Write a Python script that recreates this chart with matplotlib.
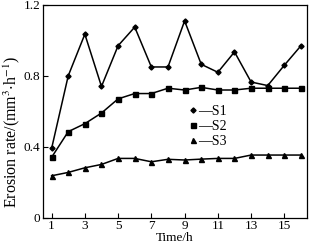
import numpy as np
import matplotlib
matplotlib.use("Agg")
import matplotlib.pyplot as plt

plt.rcParams['font.family'] = ['Liberation Serif', 'DejaVu Serif']
plt.rcParams['mathtext.fontset'] = 'stix'

time_h = [1, 2, 3, 4, 5, 6, 7, 8, 9, 10, 11, 12, 13, 14, 15, 16]
s1 = [0.39, 0.80, 1.035, 0.74, 0.97, 1.075, 0.85, 0.85, 1.11, 0.865, 0.82, 0.935, 0.765, 0.745, 0.86, 0.97]
s2 = [0.34, 0.485, 0.53, 0.59, 0.67, 0.70, 0.70, 0.73, 0.72, 0.735, 0.72, 0.72, 0.73, 0.73, 0.73, 0.73]
s3 = [0.236, 0.255, 0.281, 0.30, 0.334, 0.334, 0.315, 0.329, 0.325, 0.33, 0.334, 0.334, 0.353, 0.353, 0.353, 0.353]
xticks = [1, 3, 5, 7, 9, 11, 13, 15]
yticks = [0, 0.4, 0.8, 1.2]
ytick_labels = ["0", "0.4", "0.8", "1.2"]

fig = plt.figure(figsize=(3.09, 2.47), dpi=100)
ax = fig.add_axes([0.139, 0.119, 0.855, 0.861])

ax.plot(time_h, s1, color='black', lw=1.1, marker='D', ms=2.6)
ax.plot(time_h, s2, color='black', lw=1.1, marker='s', ms=3.6)
ax.plot(time_h, s3, color='black', lw=1.1, marker='^', ms=3.6)

# legend: marker then dash in the label
h1, = ax.plot([], [], ls='none', color='black', marker='D', ms=2.6)
h2, = ax.plot([], [], ls='none', color='black', marker='s', ms=3.6)
h3, = ax.plot([], [], ls='none', color='black', marker='^', ms=3.6)
ax.legend([h1, h2, h3], ["\u2014S1", "\u2014S2", "\u2014S3"], loc='upper left',
          bbox_to_anchor=(0.52, 0.57), frameon=False, fontsize=10,
          handlelength=0.6, handletextpad=0.1, labelspacing=0.15,
          borderpad=0.1)

ax.set_xlim(0.48, 16.37)
ax.set_ylim(0, 1.2)
ax.set_xticks(xticks)
ax.set_yticks(yticks)
ax.set_yticklabels(ytick_labels)
ax.tick_params(direction='in', length=3.5, width=0.8, labelsize=9.5, pad=2)
for sp in ax.spines.values():
    sp.set_linewidth(0.9)

ax.set_xlabel("Time/h", fontsize=9.5, labelpad=0)
ax.set_ylabel("Erosion rate/(mm$^3$$\\cdot$h$^{-1}$)", fontsize=11.5)
ax.yaxis.set_label_coords(-0.08, 0.405)

fig.savefig("out.png", dpi=100)
